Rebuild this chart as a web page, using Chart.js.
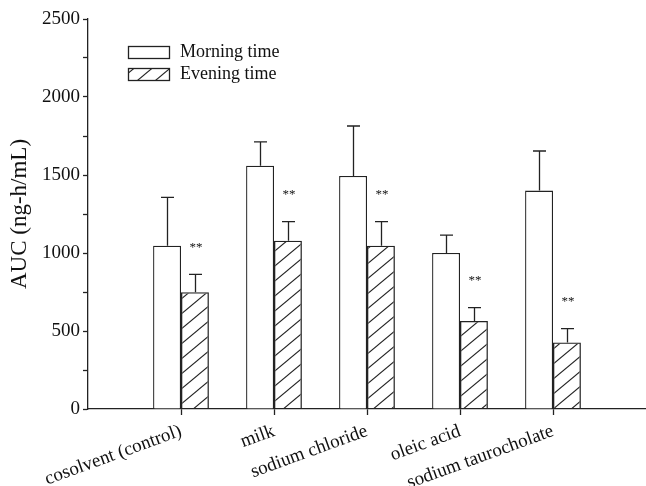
<!DOCTYPE html>
<html><head><meta charset="utf-8">
<script src="https://cdn.jsdelivr.net/npm/chart.js@4/dist/chart.umd.min.js"></script>
<style>html,body{margin:0;padding:0;background:#fff}#wrap{width:646px;height:486px;position:relative}</style>
</head><body><div id="wrap"><canvas id="c"></canvas></div>
<script>
const categories = ['cosolvent (control)', 'milk', 'sodium chloride', 'oleic acid', 'sodium taurocholate'];
const morningValues = [1047, 1560, 1494, 1000, 1400];
const morningErrors = [310, 152, 320, 115, 254];
const eveningValues = [748, 1079, 1047, 564, 427];
const eveningErrors = [115, 122, 154, 86, 88];
const eveningMarks = ['**', '**', '**', '**', '**'];
const yMajorTicks = [0, 500, 1000, 1500, 2000, 2500];
const seriesNames = ['Morning time', 'Evening time'];

const FONT = 'Liberation Serif';
const INK = '#222';

function pad(arr) { return [null, ...arr, null]; }
const labels = pad(categories).map(v => v === null ? '' : v);

function makeHatch() {
  const w = 18, h = 15;
  const c = document.createElement('canvas');
  c.width = w; c.height = h;
  const g = c.getContext('2d');
  g.strokeStyle = INK; g.lineWidth = 1.1;
  for (const dx of [-w, 0, w]) {
    g.beginPath();
    g.moveTo(dx - w, 2 * h);
    g.lineTo(dx + 2 * w, -h);
    g.stroke();
  }
  return document.createElement('canvas').getContext('2d').createPattern(c, 'repeat');
}
const hatch = makeHatch();

const extras = {
  id: 'extras',
  afterDatasetsDraw(chart) {
    const ctx = chart.ctx, ys = chart.scales.y;
    ctx.save();
    ctx.strokeStyle = INK; ctx.lineWidth = 1.3;
    ctx.fillStyle = '#111';
    ctx.textAlign = 'center'; ctx.textBaseline = 'middle';
    ctx.font = '13px "' + FONT + '"';
    chart.data.datasets.forEach((ds, di) => {
      const meta = chart.getDatasetMeta(di);
      meta.data.forEach((bar, i) => {
        const v = ds.data[i];
        if (v === null || v === undefined) return;
        const e = ds.errors[i];
        const top = ys.getPixelForValue(v + e);
        const x = Math.round(bar.x) + 0.5;
        ctx.beginPath();
        ctx.moveTo(x, bar.y); ctx.lineTo(x, top);
        ctx.moveTo(x - 6.5, top); ctx.lineTo(x + 6.5, top);
        ctx.stroke();
        if (ds.marks && ds.marks[i]) ctx.fillText(ds.marks[i], bar.x + 1, top - 27);
      });
    });
    // legend
    const ca = chart.chartArea;
    const lx = ca.left + 40, ly = ca.top + 27;
    ctx.font = '18px "' + FONT + '"';
    ctx.textAlign = 'left';
    chart.data.datasets.forEach((ds, di) => {
      const by = ly + di * 22;
      ctx.fillStyle = ds.backgroundColor;
      ctx.fillRect(lx, by, 41, 12);
      ctx.lineWidth = 1.3; ctx.strokeStyle = INK;
      ctx.strokeRect(lx + 0.5, by + 0.5, 41, 12);
      ctx.fillStyle = '#111';
      ctx.fillText(ds.label, lx + 52, by + 6.5);
    });
    ctx.restore();
  }
};

new Chart(document.getElementById('c'), {
  type: 'bar',
  data: {
    labels: labels,
    datasets: [
      { label: seriesNames[0], data: pad(morningValues), errors: pad(morningErrors),
        backgroundColor: '#ffffff', borderColor: INK, borderWidth: 1.3 },
      { label: seriesNames[1], data: pad(eveningValues), errors: pad(eveningErrors), marks: pad(eveningMarks),
        backgroundColor: hatch, borderColor: INK, borderWidth: 1.3 }
    ]
  },
  options: {
    responsive: true, maintainAspectRatio: false, animation: false,
    layout: { padding: { top: 19, right: 0, left: 0, bottom: 0 } },
    datasets: { bar: { categoryPercentage: 0.6, barPercentage: 1.0 } },
    plugins: { legend: { display: false }, tooltip: { enabled: false } },
    scales: {
      x: {
        type: 'category', offset: false,
        grid: { offset: false, drawOnChartArea: false, drawTicks: true, tickLength: 6, tickWidth: 1.3,
          tickColor: c => (c.index === 0 || c.index === labels.length - 1) ? 'rgba(0,0,0,0)' : INK },
        border: { color: INK, width: 1.3 },
        ticks: { autoSkip: false, minRotation: 20, maxRotation: 20, padding: 5, color: '#111',
          font: { family: FONT, size: 19 } },
        afterFit(s) { s.height = 77; s.paddingLeft = 0; s.paddingRight = 0; }
      },
      y: {
        min: 0, max: 2500,
        grid: { drawOnChartArea: false, drawTicks: true, tickLength: 5, color: INK, tickWidth: 1.3 },
        border: { color: INK, width: 1.3 },
        ticks: { stepSize: 250, padding: 3, color: '#111', font: { family: FONT, size: 19 },
          callback: v => yMajorTicks.includes(v) ? String(v) : '' },
        title: { display: true, text: 'AUC (ng-h/mL)', color: '#111', font: { family: FONT, size: 23 },
          padding: { top: 6, bottom: 0 } },
        afterFit(s) { s.width = 88; s.paddingTop = 0; s.paddingBottom = 0; }
      }
    }
  },
  plugins: [extras]
});
</script>
</body></html>
